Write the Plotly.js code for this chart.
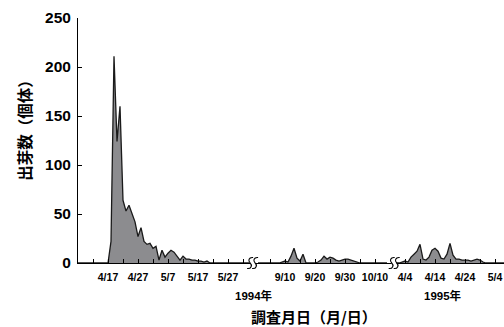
<!DOCTYPE html>
<html>
<head>
<meta charset="utf-8">
<script src="https://cdn.plot.ly/plotly-3.0.1.min.js"></script>
<style>html,body{margin:0;padding:0;background:#fff;}#chart{width:504px;height:327px;}</style>
</head>
<body>
<div id="chart"></div>
<script>
// ---- data (daily counts) ----
const seg1StartDate = '1994-04-07';
const seg1Values = [0,0,0,0,0,0,0,0,0,0, 0,22,211,124,160,64,53,59,51,42, 27,36,22,19,20,15,17,3,13,6, 10,13,11,7,3,7,4,4,3,3, 2,2,1,2,0,0,0,0,0,0, 0,0,0,0,0,0,0,0];
const seg2StartDate = '1994-09-01';
const seg2Values = [0,0,0,0,0,0,0,0,1,2, 1,7,15,5,2,9,0,0,0,0, 1,3,7,4,6,5,3,2,3,4, 4,3,2,1,0,0,0,0,0,0, 0,0,0,0];
const seg3StartDate = '1995-04-01';
const seg3Values = [0,0,1,2,1,6,9,12,19,4, 3,6,13,15,12,5,4,9,20,8, 4,4,3,3,3,2,3,4,3,1, 0,0,0,0,0,0,0];

const tickDates = ['1994-04-12','1994-04-17','1994-04-22','1994-04-27','1994-05-02','1994-05-07','1994-05-12','1994-05-17','1994-05-22','1994-05-27','1994-06-01',
  '1994-09-05','1994-09-10','1994-09-15','1994-09-20','1994-09-25','1994-09-30','1994-10-05','1994-10-10',
  '1995-04-04','1995-04-09','1995-04-14','1995-04-19','1995-04-24','1995-04-29','1995-05-04'];
const tickLabels = ['','4/17','','4/27','','5/7','','5/17','','5/27','',
  '','9/10','','9/20','','9/30','','10/10',
  '4/4','','4/14','','4/24','','5/4'];
const yearLabels = ['1994年','1995年'];
const xTitle = '調査月日（月/日）';
const yTitle = '出芽数（個体）';

// ---- broken-axis layout: where each segment sits on a continuous axis ----
const segAnchors = [
  {from:'1994-04-01', to:'1994-07-01', date:'1994-04-07', u:0},
  {from:'1994-08-01', to:'1994-11-01', date:'1994-09-05', u:64},
  {from:'1995-03-01', to:'1995-06-01', date:'1995-04-04', u:109}
];
const breaksU = [58.2, 105.4];
const DAY = 86400000;
function d(s){ return Date.parse(s+'T00:00:00Z'); }
function toU(s){
  const t = d(s);
  for (const a of segAnchors){
    if (t >= d(a.from) && t < d(a.to)) return a.u + (t - d(a.date))/DAY;
  }
  return null;
}
function seriesX(start, n){
  const out=[]; const t0=d(start);
  for(let i=0;i<n;i++){ const dt=new Date(t0+i*DAY).toISOString().slice(0,10); out.push(toU(dt)); }
  return out;
}

const FONT = 'Liberation Sans, Arial, Noto Sans CJK JP, sans-serif';
const CJK = 'Noto Sans CJK JP, Liberation Sans, sans-serif';
const lineStyle = {color:'#1a1a1a', width:1.3};
const fillColor = '#8c8c8f';

const traces = [[seg1StartDate,seg1Values],[seg2StartDate,seg2Values],[seg3StartDate,seg3Values]].map(([s,v])=>({
  type:'scatter', mode:'lines', x:seriesX(s,v.length), y:v,
  fill:'tozeroy', fillcolor:fillColor, line:lineStyle, hoverinfo:'skip', showlegend:false
}));

// break marks (yref paper so they are not clipped below the axis)
const shapes = [];
breaksU.forEach(bu=>{
  shapes.push({type:'rect', xref:'x', yref:'paper', xsizemode:'pixel', ysizemode:'pixel', xanchor:bu, yanchor:0,
    x0:-2.5, x1:2.5, y0:-1.5, y1:1.5, fillcolor:'#fff', line:{width:0}, layer:'above'});
  [-2.5, 2.5].forEach(dx=>{
    shapes.push({type:'path', xref:'x', yref:'paper', xsizemode:'pixel', ysizemode:'pixel', xanchor:bu, yanchor:0,
      path:`M ${dx+3},5.5 C ${dx-1.5},6 ${dx-2.2},2 ${dx},0 C ${dx+2.2},-2 ${dx+1.5},-6 ${dx-3},-5.5`,
      line:{color:'#000', width:1.1}, layer:'above'});
  });
});

const annotations = [
  {text:yearLabels[0], xref:'x', x:58.7, yref:'paper', y:0, yanchor:'middle', yshift:-32, showarrow:false,
   font:{family:FONT, size:11.5, color:'#000', weight:'bold'}},
  {text:yearLabels[1], xref:'x', x:121.7, yref:'paper', y:0, yanchor:'middle', yshift:-32, showarrow:false,
   font:{family:FONT, size:11.5, color:'#000', weight:'bold'}},
  {text:xTitle, xref:'paper', x:0.554, yref:'paper', y:0, yanchor:'middle', yshift:-53, showarrow:false,
   font:{family:CJK, size:15, color:'#000', weight:'bold'}},
  {text:yTitle, xref:'paper', x:-0.127, xanchor:'center', yref:'paper', y:0.56, yanchor:'middle', textangle:-90, showarrow:false,
   font:{family:CJK, size:15.5, color:'#000', weight:'bold'}}
];

const layout = {
  width:504, height:327,
  margin:{l:78, r:0, t:18, b:64},
  paper_bgcolor:'#fff', plot_bgcolor:'#fff',
  showlegend:false,
  xaxis:{range:[0,142], showgrid:false, zeroline:false, showline:true, linecolor:'#000', linewidth:1,
    ticks:'inside', ticklen:4, tickcolor:'#000', tickwidth:1,
    tickmode:'array', tickvals:tickDates.map(toU), ticktext:tickLabels,
    tickfont:{family:FONT, size:10.5, color:'#000', weight:'bold'}, ticklabelstandoff:4, fixedrange:true},
  yaxis:{range:[0,250], tickvals:[0,50,100,150,200,250], showgrid:false, zeroline:false, showline:true, linecolor:'#000', linewidth:1,
    ticks:'inside', ticklen:4, tickcolor:'#000', tickwidth:1,
    tickfont:{family:FONT, size:15.5, color:'#000', weight:'bold'}, ticklabelstandoff:3, fixedrange:true},
  shapes:shapes, annotations:annotations
};

Plotly.newPlot('chart', traces, layout, {staticPlot:true, displayModeBar:false});
</script>
</body>
</html>
